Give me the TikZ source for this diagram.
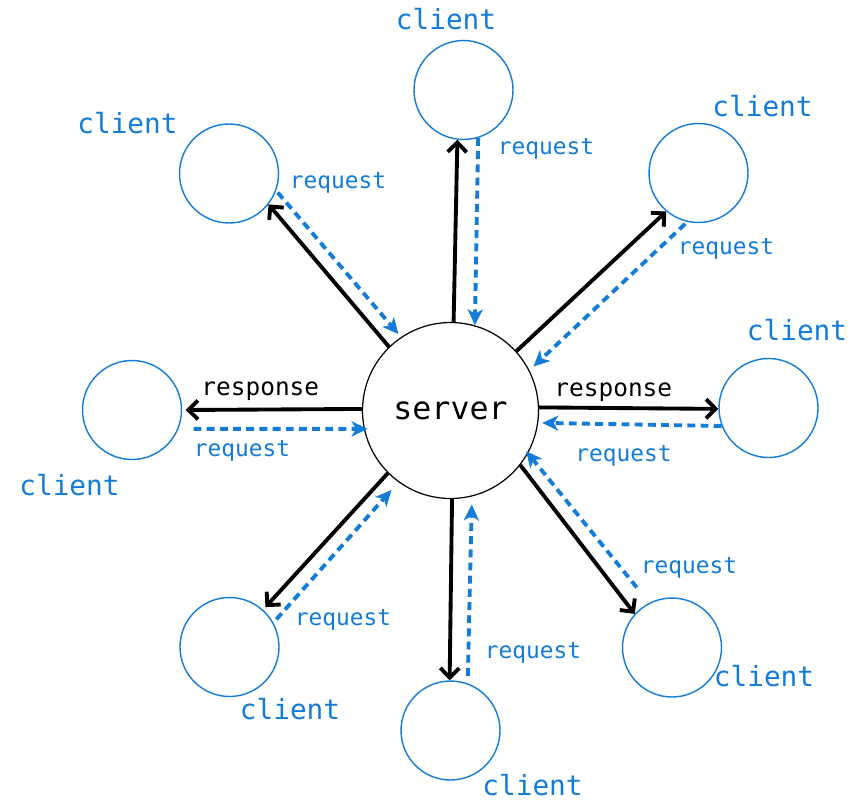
\documentclass[tikz,border=0pt]{standalone}
\usepackage{fontspec}
\setmainfont{DejaVu Sans Mono}
\usetikzlibrary{arrows.meta}
\definecolor{cblue}{RGB}{18,124,214}
\begin{document}
\begin{tikzpicture}[x=0.02cm,y=-0.02cm,
  clientnode/.style={circle, draw=cblue, line width=0.8pt, minimum size=1.98cm, inner sep=0pt},
  servernode/.style={circle, draw=black, line width=0.7pt, minimum size=3.52cm, inner sep=0pt, font=\fontsize{18}{20}\selectfont},
  resp/.style={line width=2.2pt, -{Straight Barb[length=1.9mm,width=3.8mm]}},
  req/.style={draw=cblue, line width=2.2pt, dash pattern=on 4.5pt off 3pt, -{Stealth[length=3.2mm,width=3mm,inset=0.9mm]}},
  clabel/.style={text=cblue, font=\fontsize{15.8}{18}\selectfont, anchor=base, inner sep=0pt},
  rlabel/.style={text=cblue, font=\fontsize{13}{16}\selectfont, anchor=base, inner sep=0pt},
  slabel/.style={text=black, font=\fontsize{13.9}{16}\selectfont, anchor=base, inner sep=0pt}
]
\useasboundingbox (0,0) rectangle (854,801);

\node[servernode] (s) at (450.5,410.5) {server};

\node[clientnode] (ct)  at (463.5,90) {};
\node[clientnode] (ctl) at (229,173.5) {};
\node[clientnode] (ctr) at (698.5,173) {};
\node[clientnode] (cr)  at (768.5,408) {};
\node[clientnode] (cl)  at (132,410) {};
\node[clientnode] (cbl) at (229.5,647) {};
\node[clientnode] (cb)  at (450.5,730.5) {};
\node[clientnode] (cbr) at (672,647.5) {};

% client labels
\node[clabel] (lct)  at (446,30) {client};
\node[clabel] (lctl) at (127.5,133) {client};
\node[clabel] (lctr) at (762.5,116.7) {client};
\node[clabel] (lcr)  at (797,340) {client};
\node[clabel] (lcl)  at (69.5,495) {client};
\node[clabel] (lcbl) at (290,719.3) {client};
\node[clabel] (lcb)  at (532.5,795) {client};
\node[clabel] (lcbr) at (764,686.7) {client};

% request labels
\node[rlabel] (rct)  at (546,154.3) {request};
\node[rlabel] (rctl) at (338,188.3) {request};
\node[rlabel] (rctr) at (726,254) {request};
\node[rlabel] (rcr)  at (623.5,461.7) {request};
\node[rlabel] (rcl)  at (242,456.7) {request};
\node[rlabel] (rcbl) at (343,625) {request};
\node[rlabel] (rcb)  at (533,658.3) {request};
\node[rlabel] (rcbr) at (689,573.3) {request};

% response labels
\node[slabel] (pl) at (260.3,395) {response};
\node[slabel] (pr) at (613.3,396) {response};

% responses (server -> client)
\draw[resp] (s.88.4) -- (ct.263.3);
\draw[resp] (s.134.5) -- (ctl.322.8);
\draw[resp] (s.42.7) -- (ctr.230.8);
\draw[resp] (s.2.5) -- (cr.181.5);
\draw[resp, shorten >=0.07cm] (s.179.2) -- (cl.0.8);
\draw[resp, shorten >=0.07cm] (s.225.7) -- (cbl.48.2);
\draw[resp] (s.271.8) -- (cb.91.4);
\draw[resp] (s.322.6) -- (cbr.138.8);

% requests (client -> server)
\draw[req] (ct.287.4) -- (s.74);
\draw[req, shorten <=0.05cm, shorten >=0.076cm] (ctl.340.8) -- (s.124.7);
\draw[req, shorten <=0.056cm, shorten >=0.11cm] (ctr.257) -- (s.27.9);
\draw[req, shorten >=0.08cm] (cr.201.7) -- (s.352.4);
\draw[req, shorten <=0.3cm, shorten >=-0.076cm] (cl.338.3) -- (s.192.3);
\draw[req, shorten <=0.09cm, shorten >=0.21cm] (cbl.29.8) -- (s.234.5);
\draw[req, shorten <=0.15cm, shorten >=0.16cm] (cb.70.7) -- (s.284.8);
\draw[req, shorten <=0.395cm, shorten >=-0.06cm] (cbr.117.4) -- (s.331);
\end{tikzpicture}
\end{document}
